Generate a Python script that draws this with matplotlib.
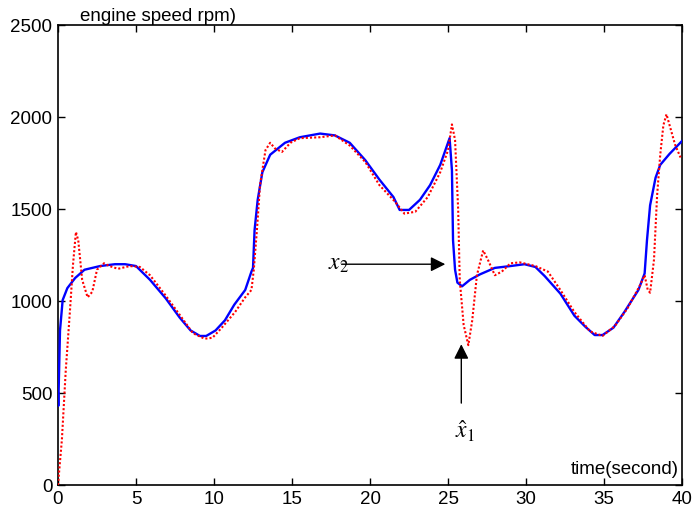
import matplotlib
matplotlib.use("Agg")
import matplotlib.pyplot as plt

plt.rcParams['font.family'] = ['Liberation Sans', 'DejaVu Sans']
plt.rcParams['mathtext.fontset'] = 'stix'

# blue solid: x2 (time s, rpm)
t_blue = [0, 0.02, 0.13, 0.3, 0.6, 1.1, 1.7, 2.7, 3.65, 4.3, 5.0, 5.9, 6.9, 7.8, 8.5, 9.1, 9.5,
          10.1, 10.7, 11.3, 12.0, 12.4, 12.5, 12.6, 12.8, 13.1, 13.6, 14.55, 15.5, 16.8, 17.75,
          18.7, 19.7, 20.6, 21.5, 21.9, 22.5, 23.2, 23.85, 24.5, 25.1, 25.25, 25.32, 25.45, 25.6,
          25.9, 26.4, 27.05, 28.0, 29.0, 29.9, 30.6, 31.2, 32.2, 33.1, 33.8, 34.4, 34.9, 35.6,
          36.3, 37.2, 37.6, 37.75, 37.95, 38.3, 38.6, 39.2, 40.0]
v_blue = [500, 430, 840, 1005, 1070, 1125, 1170, 1190, 1200, 1200, 1190, 1115, 1015, 910, 840, 810, 810,
          840, 895, 980, 1060, 1160, 1180, 1385, 1550, 1700, 1795, 1860, 1890, 1910, 1900,
          1860, 1765, 1660, 1565, 1495, 1495, 1550, 1630, 1740, 1885, 1710, 1330, 1170, 1100,
          1080, 1115, 1145, 1180, 1190, 1200, 1185, 1135, 1040, 920, 860, 815, 815, 855,
          940, 1060, 1150, 1330, 1520, 1670, 1740, 1800, 1870]

# red dotted: x1 estimate
t_red = [0, 0.25, 0.5, 0.77, 0.96, 1.15, 1.3, 1.55, 1.9, 2.2, 2.5, 2.95, 3.3, 3.85, 4.6, 5.25, 5.9,
         6.9, 7.8, 8.65, 9.4, 9.9, 10.5, 11.35, 12.0, 12.4, 12.55, 12.75, 12.95, 13.3, 13.6, 13.9,
         14.35, 14.9, 15.5, 16.8, 17.75, 18.7, 19.7, 20.6, 21.6, 22.2, 22.9, 23.7, 24.5, 25.0,
         25.25, 25.45, 25.65, 25.75, 26.0, 26.3, 26.55, 26.85, 27.25, 27.55, 28.0, 28.45, 29.0,
         29.6, 30.6, 31.4, 32.2, 33.1, 34.1, 34.9, 35.7, 36.5, 37.3, 37.6, 37.8, 37.95, 38.2,
         38.4, 38.6, 38.8, 39.0, 39.2, 39.55, 39.9]
v_red = [0, 245, 625, 950, 1195, 1375, 1330, 1115, 1020, 1050, 1170, 1205, 1190, 1175, 1190, 1185, 1140,
         1030, 925, 825, 795, 800, 855, 940, 1020, 1060, 1170, 1385, 1630, 1820, 1860, 1830,
         1810, 1860, 1885, 1890, 1900, 1845, 1755, 1630, 1540, 1475, 1485, 1565, 1700, 1820,
         1960, 1875, 1495, 1115, 870, 760, 895, 1140, 1275, 1225, 1140, 1160, 1205,
         1210, 1190, 1160, 1060, 940, 835, 810, 865, 960, 1085, 1140, 1060, 1045, 1225,
         1575, 1795, 1955, 2015, 1955, 1850, 1780]

x_ticks = [0, 5, 10, 15, 20, 25, 30, 35, 40]
y_ticks = [0, 500, 1000, 1500, 2000, 2500]

fig = plt.figure(figsize=(6.96, 5.18), dpi=100)
ax = fig.add_axes([0.0833, 0.0637, 0.8967, 0.888])
ax.plot(t_blue, v_blue, color='#0000ff', lw=1.7, zorder=3)
ax.plot(t_red, v_red, color='#ff0000', lw=1.5, linestyle=(0, (1, 1.0)), zorder=4)

ax.set_xlim(0, 40)
ax.set_ylim(0, 2500)
ax.set_xticks(x_ticks)
ax.set_yticks(y_ticks)
ax.tick_params(direction='in', top=True, right=True, length=5, width=1, labelsize=13.5, pad=4)
for s in ax.spines.values():
    s.set_linewidth(1.2)

ax.text(0.036, 1.0, 'engine speed rpm)', transform=ax.transAxes, fontsize=13.5,
        ha='left', va='bottom')
ax.text(0.995, 0.015, 'time(second)', transform=ax.transAxes, fontsize=13.5,
        ha='right', va='bottom')

ax.annotate('', xy=(25.0, 1200), xytext=(18.0, 1200),
            arrowprops=dict(arrowstyle='-|>', color='black', lw=1.0, mutation_scale=22))
ax.text(18.0, 1200, r'$x_2$', fontsize=17, ha='center', va='center')
ax.annotate('', xy=(25.85, 780), xytext=(25.85, 430),
            arrowprops=dict(arrowstyle='-|>', color='black', lw=1.0, mutation_scale=22))
ax.text(26.1, 290, r'$\hat{x}_1$', fontsize=17, ha='center', va='center')

fig.savefig('out.png', dpi=100)
